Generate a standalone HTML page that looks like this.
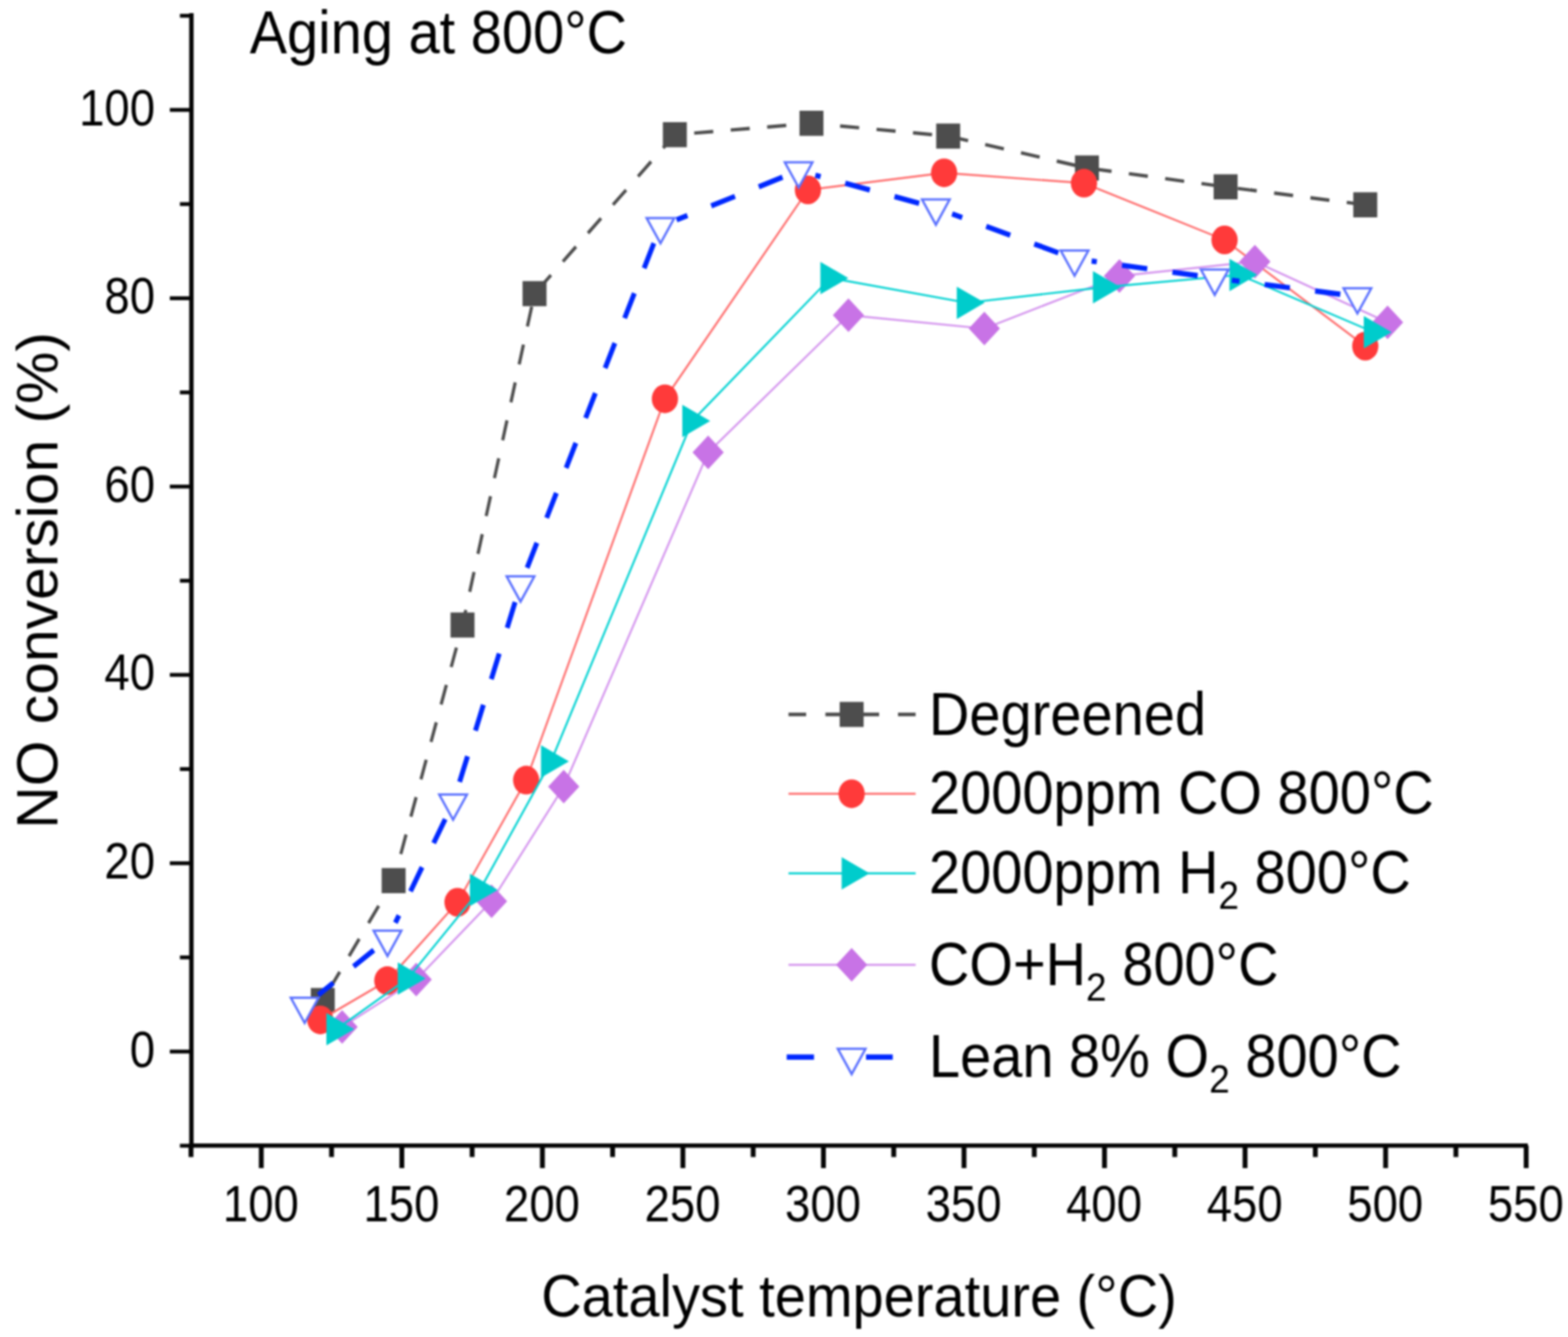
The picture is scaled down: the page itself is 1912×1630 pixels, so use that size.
<!DOCTYPE html>
<html lang="en"><head><meta charset="utf-8"><title>NO conversion vs catalyst temperature</title>
<style>html,body{margin:0;padding:0;background:#fff;}body{width:1912px;height:1630px;overflow:hidden;}svg{display:block;}text{font-family:"Liberation Sans",Arial,sans-serif;fill:#000;}</style>
</head><body>
<svg width="1912" height="1630" viewBox="0 0 1912 1630" style="filter:blur(0.9px)">
<rect width="1912" height="1630" fill="#fff"/>
<g fill="none" stroke-linejoin="round">
<g transform="scale(1,1.063)">
<polyline points="393.6,1147.5 480.0,1010.0 564.0,716.8 651.8,336.8 822.9,154.5 989.5,141.4 1156.2,156.1 1325.4,192.7 1494.5,214.3 1664.8,234.9" stroke="#4d4d4d" stroke-width="3.9" stroke-dasharray="23.3 21.32" stroke-dashoffset="29.02"/>
</g>
<rect x="379.0" y="1204.5" width="29.2" height="30.6" fill="#4d4d4d"/><rect x="465.4" y="1058.3" width="29.2" height="30.6" fill="#4d4d4d"/><rect x="549.4" y="746.7" width="29.2" height="30.6" fill="#4d4d4d"/><rect x="637.2" y="342.7" width="29.2" height="30.6" fill="#4d4d4d"/><rect x="808.3" y="148.9" width="29.2" height="30.6" fill="#4d4d4d"/><rect x="974.9" y="135.0" width="29.2" height="30.6" fill="#4d4d4d"/><rect x="1141.6" y="150.6" width="29.2" height="30.6" fill="#4d4d4d"/><rect x="1310.8" y="189.5" width="29.2" height="30.6" fill="#4d4d4d"/><rect x="1479.9" y="212.5" width="29.2" height="30.6" fill="#4d4d4d"/><rect x="1650.2" y="234.4" width="29.2" height="30.6" fill="#4d4d4d"/>
<polyline points="390.6,1243.4 472.3,1195.6 557.9,1100.0 641.6,951.1 810.8,486.2 985.2,231.5 1151.2,210.7 1321.8,223.3 1493.2,292.5 1664.8,422.0" stroke="#ff6c6c" stroke-width="2.4"/>
<ellipse cx="390.6" cy="1243.4" rx="16.0" ry="17.5" fill="#ff3a3a"/><ellipse cx="472.3" cy="1195.6" rx="16.0" ry="17.5" fill="#ff3a3a"/><ellipse cx="557.9" cy="1100.0" rx="16.0" ry="17.5" fill="#ff3a3a"/><ellipse cx="641.6" cy="951.1" rx="16.0" ry="17.5" fill="#ff3a3a"/><ellipse cx="810.8" cy="486.2" rx="16.0" ry="17.5" fill="#ff3a3a"/><ellipse cx="985.2" cy="231.5" rx="16.0" ry="17.5" fill="#ff3a3a"/><ellipse cx="1151.2" cy="210.7" rx="16.0" ry="17.5" fill="#ff3a3a"/><ellipse cx="1321.8" cy="223.3" rx="16.0" ry="17.5" fill="#ff3a3a"/><ellipse cx="1493.2" cy="292.5" rx="16.0" ry="17.5" fill="#ff3a3a"/><ellipse cx="1664.8" cy="422.0" rx="16.0" ry="17.5" fill="#ff3a3a"/>
<polyline points="417.2,1252.0 507.5,1194.3 599.4,1098.7 687.4,959.1 863.5,551.6 1034.6,384.3 1200.3,400.6 1365.0,336.5 1530.2,318.9 1692.0,393.1" stroke="#d494ee" stroke-width="2.4"/>
<polygon points="398.2,1252.0 417.2,1231.5 436.2,1252.0 417.2,1272.5" fill="#c873e6"/><polygon points="488.5,1194.3 507.5,1173.8 526.5,1194.3 507.5,1214.8" fill="#c873e6"/><polygon points="580.4,1098.7 599.4,1078.2 618.4,1098.7 599.4,1119.2" fill="#c873e6"/><polygon points="668.4,959.1 687.4,938.6 706.4,959.1 687.4,979.6" fill="#c873e6"/><polygon points="844.5,551.6 863.5,531.1 882.5,551.6 863.5,572.1" fill="#c873e6"/><polygon points="1015.6,384.3 1034.6,363.8 1053.6,384.3 1034.6,404.8" fill="#c873e6"/><polygon points="1181.3,400.6 1200.3,380.1 1219.3,400.6 1200.3,421.1" fill="#c873e6"/><polygon points="1346.0,336.5 1365.0,316.0 1384.0,336.5 1365.0,357.0" fill="#c873e6"/><polygon points="1511.2,318.9 1530.2,298.4 1549.2,318.9 1530.2,339.4" fill="#c873e6"/><polygon points="1673.0,393.1 1692.0,372.6 1711.0,393.1 1692.0,413.6" fill="#c873e6"/>
<polyline points="410.2,1254.7 497.2,1193.0 585.2,1084.9 671.9,928.2 844.2,513.2 1012.6,339.0 1179.0,369.1 1345.0,350.3 1511.4,335.1 1675.2,405.0" stroke="#00d2d2" stroke-width="2.4"/>
<polygon points="398.0,1234.9 432.0,1254.7 398.0,1274.4" fill="#00cccc"/><polygon points="485.0,1173.2 519.0,1193.0 485.0,1212.8" fill="#00cccc"/><polygon points="573.0,1065.2 607.0,1084.9 573.0,1104.7" fill="#00cccc"/><polygon points="659.7,908.5 693.7,928.2 659.7,948.0" fill="#00cccc"/><polygon points="832.0,493.5 866.0,513.2 832.0,533.0" fill="#00cccc"/><polygon points="1000.4,319.2 1034.4,339.0 1000.4,358.8" fill="#00cccc"/><polygon points="1166.7,349.4 1200.7,369.1 1166.7,388.9" fill="#00cccc"/><polygon points="1332.7,330.5 1366.7,350.3 1332.7,370.0" fill="#00cccc"/><polygon points="1499.2,315.4 1533.2,335.1 1499.2,354.9" fill="#00cccc"/><polygon points="1663.0,385.2 1697.0,405.0 1663.0,424.8" fill="#00cccc"/>
<g transform="scale(1,1.063)" stroke="#0028ff" stroke-width="6.0" stroke-dasharray="31.0 31.0">
<line x1="455.8" y1="1089.7" x2="388.2" y2="1141.1"/>
<line x1="542.9" y1="939.4" x2="482.1" y2="1058.3"/>
<line x1="628.1" y1="690.6" x2="559.1" y2="900.8"/>
<line x1="797.3" y1="279.0" x2="642.8" y2="651.2"/>
<line x1="954.2" y1="203.2" x2="825.0" y2="252.2"/>
<line x1="1120.8" y1="233.1" x2="994.2" y2="200.9"/>
<line x1="1290.5" y1="289.9" x2="1161.0" y2="245.2"/>
<line x1="1460.4" y1="316.1" x2="1331.1" y2="299.4"/>
<line x1="1634.4" y1="337.5" x2="1502.1" y2="321.4"/>
</g>
<polygon points="354.6,1216.4 388.4,1216.4 371.5,1247.2" fill="#fff" stroke="#5a70ff" stroke-width="2.8" stroke-linejoin="miter"/><polygon points="455.6,1134.7 489.4,1134.7 472.5,1165.5" fill="#fff" stroke="#5a70ff" stroke-width="2.8" stroke-linejoin="miter"/><polygon points="535.6,968.6 569.4,968.6 552.5,999.4" fill="#fff" stroke="#5a70ff" stroke-width="2.8" stroke-linejoin="miter"/><polygon points="617.8,702.7 651.6,702.7 634.7,733.5" fill="#fff" stroke="#5a70ff" stroke-width="2.8" stroke-linejoin="miter"/><polygon points="788.5,265.8 822.2,265.8 805.4,296.6" fill="#fff" stroke="#5a70ff" stroke-width="2.8" stroke-linejoin="miter"/><polygon points="957.0,197.9 990.7,197.9 973.9,228.7" fill="#fff" stroke="#5a70ff" stroke-width="2.8" stroke-linejoin="miter"/><polygon points="1124.3,243.2 1158.0,243.2 1141.2,274.0" fill="#fff" stroke="#5a70ff" stroke-width="2.8" stroke-linejoin="miter"/><polygon points="1293.4,305.3 1327.2,305.3 1310.3,336.1" fill="#fff" stroke="#5a70ff" stroke-width="2.8" stroke-linejoin="miter"/><polygon points="1464.4,328.7 1498.1,328.7 1481.2,359.5" fill="#fff" stroke="#5a70ff" stroke-width="2.8" stroke-linejoin="miter"/><polygon points="1638.3,351.4 1672.1,351.4 1655.2,382.2" fill="#fff" stroke="#5a70ff" stroke-width="2.8" stroke-linejoin="miter"/>
</g>
<g stroke="#050505" fill="none">
<line x1="233.4" y1="16" x2="233.4" y2="1399.3" stroke-width="5.4"/>
<line x1="230.70000000000002" y1="1396.6" x2="1863" y2="1396.6" stroke-width="5.4"/>
<line x1="219.4" y1="1396.8" x2="233.4" y2="1396.8" stroke-width="4.7"/>
<line x1="207.1" y1="1282.0" x2="233.4" y2="1282.0" stroke-width="4.7"/>
<line x1="219.4" y1="1167.2" x2="233.4" y2="1167.2" stroke-width="4.7"/>
<line x1="207.1" y1="1052.4" x2="233.4" y2="1052.4" stroke-width="4.7"/>
<line x1="219.4" y1="937.6" x2="233.4" y2="937.6" stroke-width="4.7"/>
<line x1="207.1" y1="822.8" x2="233.4" y2="822.8" stroke-width="4.7"/>
<line x1="219.4" y1="708.0" x2="233.4" y2="708.0" stroke-width="4.7"/>
<line x1="207.1" y1="593.2" x2="233.4" y2="593.2" stroke-width="4.7"/>
<line x1="219.4" y1="478.4" x2="233.4" y2="478.4" stroke-width="4.7"/>
<line x1="207.1" y1="363.6" x2="233.4" y2="363.6" stroke-width="4.7"/>
<line x1="219.4" y1="248.8" x2="233.4" y2="248.8" stroke-width="4.7"/>
<line x1="207.1" y1="134.0" x2="233.4" y2="134.0" stroke-width="4.7"/>
<line x1="219.4" y1="19.2" x2="233.4" y2="19.2" stroke-width="4.7"/>
<line x1="232.9" y1="1396.6" x2="232.9" y2="1410.6" stroke-width="5.9"/>
<line x1="318.6" y1="1396.6" x2="318.6" y2="1424.1" stroke-width="5.9"/>
<line x1="404.3" y1="1396.6" x2="404.3" y2="1410.6" stroke-width="5.9"/>
<line x1="490.0" y1="1396.6" x2="490.0" y2="1424.1" stroke-width="5.9"/>
<line x1="575.7" y1="1396.6" x2="575.7" y2="1410.6" stroke-width="5.9"/>
<line x1="661.4" y1="1396.6" x2="661.4" y2="1424.1" stroke-width="5.9"/>
<line x1="747.0" y1="1396.6" x2="747.0" y2="1410.6" stroke-width="5.9"/>
<line x1="832.7" y1="1396.6" x2="832.7" y2="1424.1" stroke-width="5.9"/>
<line x1="918.4" y1="1396.6" x2="918.4" y2="1410.6" stroke-width="5.9"/>
<line x1="1004.1" y1="1396.6" x2="1004.1" y2="1424.1" stroke-width="5.9"/>
<line x1="1089.8" y1="1396.6" x2="1089.8" y2="1410.6" stroke-width="5.9"/>
<line x1="1175.5" y1="1396.6" x2="1175.5" y2="1424.1" stroke-width="5.9"/>
<line x1="1261.2" y1="1396.6" x2="1261.2" y2="1410.6" stroke-width="5.9"/>
<line x1="1346.8" y1="1396.6" x2="1346.8" y2="1424.1" stroke-width="5.9"/>
<line x1="1432.5" y1="1396.6" x2="1432.5" y2="1410.6" stroke-width="5.9"/>
<line x1="1518.2" y1="1396.6" x2="1518.2" y2="1424.1" stroke-width="5.9"/>
<line x1="1603.9" y1="1396.6" x2="1603.9" y2="1410.6" stroke-width="5.9"/>
<line x1="1689.6" y1="1396.6" x2="1689.6" y2="1424.1" stroke-width="5.9"/>
<line x1="1775.3" y1="1396.6" x2="1775.3" y2="1410.6" stroke-width="5.9"/>
<line x1="1861.0" y1="1396.6" x2="1861.0" y2="1424.1" stroke-width="5.9"/>
</g>
<text transform="translate(189.0,1300.6) scale(1,1.135)" font-size="55.5" text-anchor="end">0</text>
<text transform="translate(189.0,1071.0) scale(1,1.135)" font-size="55.5" text-anchor="end">20</text>
<text transform="translate(189.0,841.4) scale(1,1.135)" font-size="55.5" text-anchor="end">40</text>
<text transform="translate(189.0,611.8) scale(1,1.135)" font-size="55.5" text-anchor="end">60</text>
<text transform="translate(189.0,382.2) scale(1,1.135)" font-size="55.5" text-anchor="end">80</text>
<text transform="translate(189.0,152.6) scale(1,1.135)" font-size="55.5" text-anchor="end">100</text>
<text transform="translate(318.1,1488.6) scale(1,1.135)" font-size="55.5" text-anchor="middle">100</text>
<text transform="translate(489.5,1488.6) scale(1,1.135)" font-size="55.5" text-anchor="middle">150</text>
<text transform="translate(660.9,1488.6) scale(1,1.135)" font-size="55.5" text-anchor="middle">200</text>
<text transform="translate(832.2,1488.6) scale(1,1.135)" font-size="55.5" text-anchor="middle">250</text>
<text transform="translate(1003.6,1488.6) scale(1,1.135)" font-size="55.5" text-anchor="middle">300</text>
<text transform="translate(1175.0,1488.6) scale(1,1.135)" font-size="55.5" text-anchor="middle">350</text>
<text transform="translate(1346.3,1488.6) scale(1,1.135)" font-size="55.5" text-anchor="middle">400</text>
<text transform="translate(1517.7,1488.6) scale(1,1.135)" font-size="55.5" text-anchor="middle">450</text>
<text transform="translate(1689.1,1488.6) scale(1,1.135)" font-size="55.5" text-anchor="middle">500</text>
<text transform="translate(1860.5,1488.6) scale(1,1.135)" font-size="55.5" text-anchor="middle">550</text>
<text transform="translate(304.5,65.0) scale(1,1.085)" font-size="68.3" text-anchor="start">Aging at 800°C</text>
<text transform="translate(1047.5,1605.2) scale(1,1.07)" font-size="68.3" text-anchor="middle">Catalyst temperature (°C)</text>
<text transform="translate(69.8,707.6) scale(1.03,1.05) rotate(-90)" font-size="68.3" text-anchor="middle">NO conversion (%)</text>
<g fill="none">
<line x1="961.5" y1="871" x2="983" y2="871" stroke="#4d4d4d" stroke-width="4.4"/>
<line x1="1006.5" y1="871" x2="1072" y2="871" stroke="#4d4d4d" stroke-width="4.4"/>
<line x1="1095" y1="871" x2="1116.5" y2="871" stroke="#4d4d4d" stroke-width="4.4"/>
<rect x="1023.9" y="855.7" width="29.2" height="30.6" fill="#4d4d4d"/>
<line x1="961.5" y1="967.7" x2="1116.5" y2="967.7" stroke="#ff6c6c" stroke-width="2.4"/><ellipse cx="1038.5" cy="967.7" rx="16.0" ry="17.5" fill="#ff3a3a"/>
<line x1="961.5" y1="1064.8" x2="1116.5" y2="1064.8" stroke="#00d2d2" stroke-width="2.4"/><polygon points="1026.3,1045.0 1060.3,1064.8 1026.3,1084.5" fill="#00cccc"/>
<line x1="961.5" y1="1176.2" x2="1116.5" y2="1176.2" stroke="#d494ee" stroke-width="2.4"/><polygon points="1019.5,1176.2 1038.5,1155.7 1057.5,1176.2 1038.5,1196.7" fill="#c873e6"/>
<line x1="959.3" y1="1288.8" x2="992.6" y2="1288.8" stroke="#0028ff" stroke-width="6.4"/>
<line x1="1056" y1="1288.8" x2="1088.6" y2="1288.8" stroke="#0028ff" stroke-width="6.4"/>
<polygon points="1021.6,1278.7 1055.4,1278.7 1038.5,1309.5" fill="#fff" stroke="#5a70ff" stroke-width="2.8" stroke-linejoin="miter"/>
</g>
<text transform="translate(1132.7,895.6) scale(1,1.085)" font-size="68.3" text-anchor="start">Degreened</text>
<text transform="translate(1132.7,992.3) scale(1,1.085)" font-size="68.3" text-anchor="start">2000ppm CO 800°C</text>
<text transform="translate(1132.7,1089.4) scale(1,1.085)" font-size="68.3" text-anchor="start">2000ppm H<tspan dy="17.5" font-size="45.1">2</tspan><tspan dy="-17.5"> 800°C</tspan></text>
<text transform="translate(1132.7,1200.8) scale(1,1.085)" font-size="68.3" text-anchor="start">CO+H<tspan dy="17.5" font-size="45.1">2</tspan><tspan dy="-17.5"> 800°C</tspan></text>
<text transform="translate(1132.7,1313.4) scale(1,1.085)" font-size="68.3" text-anchor="start">Lean 8% O<tspan dy="17.5" font-size="45.1">2</tspan><tspan dy="-17.5"> 800°C</tspan></text>
</svg></body></html>
